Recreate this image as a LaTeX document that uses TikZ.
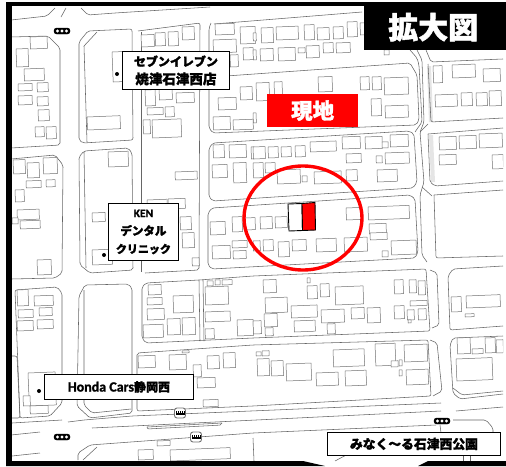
\documentclass[tikz,border=0pt]{standalone}
\usepackage{fontspec}
\setmainfont{Noto Sans CJK JP}[BoldFeatures={FakeBold=1.6}]
\newfontfamily\latn{Carlito}[BoldFeatures={FakeBold=1.2}]
\tikzset{
 bld/.style={draw=black!55,line width=.5pt,fill=white,line join=round},
 road/.style={draw=black!60,line width=.55pt,rounded corners=2pt,line join=round},
 lbl/.style={draw=black,line width=.9pt,fill=white,inner sep=0pt,align=center,font=\bfseries},
 pill/.style={draw=black,fill=black,rounded corners=2.6pt,minimum width=16pt,minimum height=6pt,inner sep=0pt},
 rail/.style={draw=black!55,line width=.9pt,fill=white,rounded corners=2.5pt,minimum width=11pt,minimum height=10pt,inner sep=0pt}
}
\begin{document}
\begin{tikzpicture}[x=1pt,y=-1pt]
\useasboundingbox (0,0) rectangle (506,466);
\fill[white] (0,0) rectangle (506,466);
\begin{scope}
\clip (11,5) rectangle (503,461);
% gray verges
\fill[black!10] (427,66) -- (431,66) -- (433,122) -- (429,122) -- cycle;
\fill[black!10] (429,135) -- (433,135) -- (435,182) -- (431,182) -- cycle;
% roads and blocks
\draw[road] (11,20) -- (47,16) -- (55,8) ;
\draw[road] (66,8) -- (61,17);
\draw[road] (81,8) -- (88,15) -- (115,13) -- (210,7);
\draw[road] (11,37) -- (48,36) -- (60,48) -- (60,145) -- (11,148);
\draw[road] (11,159) -- (55,155) -- (63,165) -- (62,273) -- (55,278) -- (11,279);
\draw[road] (15,290) -- (57,287) -- (62,293) -- (62,403) -- (50,416) -- (20,418) -- cycle;
\draw[road] (12,356) -- (17,356) -- (20,418) -- (12,418);
\draw[road] (79,42) -- (88,31) -- (132,29) -- (133,140) -- (83,143) -- (79,140) -- cycle;
\draw[road] (84,46) -- (97,32);
\draw[road] (84,46) -- (87,142);
\draw[road] (79,157) -- (84,151) -- (128,148) -- (132,153) -- (133,270) -- (90,273) -- (80,265) -- cycle;
\draw[road] (84,152) -- (86,268);
\draw[road] (79,296) -- (85,285) -- (128,284) -- (132,288) -- (132,413) -- (90,418) -- (77,406) -- cycle;
\draw[road] (84,290) -- (84,405) -- (92,413) -- (131,409);
\draw[road] (138,31) -- (200,23) -- (199,270) -- (145,273);
\draw[road] (141,32) -- (141,272);
\draw[road] (142,287) -- (146,283) -- (199,280) -- (253,276) -- (426,269) -- (430,331) -- (253,338) -- (146,343) -- (142,338) -- cycle;
\draw[road] (199,280) -- (200,341);
\draw[road] (203,280) -- (204,341);
\draw[road] (137,353) -- (253,345) -- (428,340) -- (431,396) -- (253,406) -- (137,411) -- cycle;
\draw[road] (214,24) -- (362,12);
\draw[road] (211,23) -- (209,28) -- (209,128) -- (213,133) -- (416,125) -- (419,120) -- (417,75) -- (410,63) -- (212,77);
\draw[road] (209,148) -- (213,143) -- (409,131) -- (414,134) -- (417,182) -- (413,188) -- (213,201) -- (209,197) -- cycle;
\draw[road] (208,213) -- (212,208) -- (410,195) -- (415,199) -- (418,252) -- (415,258) -- (212,269) -- (208,265) -- cycle;
\draw[road] (410,50) -- (417,58) -- (419,65) -- (422,122) -- (415,132);
\draw[road] (417,50) -- (422,60) -- (424,122) -- (420,132) -- (424,182) -- (420,195) -- (422,255) -- (427,262);
\draw[road] (426,50) -- (431,62) -- (503,59);
\draw[road] (428,64) -- (431,122) -- (503,118);
\draw[road] (420,132) -- (428,124);
\draw[road] (428,134) -- (503,128);
\draw[road] (428,134) -- (430,182) -- (435,186) -- (503,181);
\draw[road] (422,187) -- (432,196);
\draw[road] (434,195) -- (503,190);
\draw[road] (434,195) -- (436,258) -- (503,256);
\draw[road] (430,270) -- (437,273) -- (439,325) -- (432,328);
\draw[road] (430,340) -- (437,343) -- (442,391) -- (433,396);
\draw[road] (503,266) -- (453,269) -- (448,276) -- (450,330) -- (503,326);
\draw[road] (503,336) -- (453,338) -- (450,345) -- (453,393) -- (460,399) -- (503,394);
\draw[road] (453,388) -- (462,395) -- (503,391);
\draw[road] (12,423) -- (62,420);
\draw[road] (11,435) -- (40,432);
\draw[road] (12,456) -- (40,453);
\draw[road] (92,428) -- (441,411);
\draw[road] (147,427) -- (222,423);
\draw[road] (147,427) -- (147,429) -- (222,425) -- (222,423);
\draw[road] (456,411) -- (503,407);
\draw[road] (78,460) -- (78,453) -- (90,445) -- (253,433) -- (436,425);
\draw[road] (83,460) -- (97,447);
\draw[road] (68,422) -- (84,420) -- (132,416) -- (441,403);
\draw[road] (453,420) -- (486,420) -- (493,428) -- (493,433);
\draw[road] (440,425) -- (441,433);
\draw[road] (253,438) -- (254,461);
\draw[road] (463,455) -- (463,461);
\draw[road] (470,455) -- (470,461);
\draw[road] (335,461) -- (350,453);
% buildings
\foreach \x/\y/\w/\h in {
30/37/17/12,16/49/12/18,24/69/20/12,18/84/14/7,37/83/11/9,18/96/14/9,37/97/11/9,38/110/11/11,35/127/9/10,46/127/10/12,
13/160/12/14,27/163/12/15,43/158/14/16,26/181/15/7,46/180/9/7,15/190/9/12,17/210/22/10,12/218/6/6,20/221/20/8,37/260/14/15,
17/290/11/16,34/296/19/10,18/310/15/8,39/308/13/8,17/321/16/10,37/320/16/9,28/373/27/33,23/396/7/10,30/406/18/8,
112/52/12/30,87/117/33/13,108/152/20/15,92/213/13/9,92/250/20/15,
141/35/13/12,155/33/10/13,168/32/10/14,182/27/12/13,145/90/10/16,159/88/13/12,176/93/18/10,147/108/16/7,165/107/9/10,143/120/7/14,152/120/29/18,175/172/22/8,147/200/20/10,168/199/17/10,180/217/11/13,182/233/12/15,192/258/7/8,
215/24/19/11,240/27/15/17,213/40/23/13,243/48/10/12,230/55/8/12,253/33/3/8,261/28/12/15,276/27/22/13,304/25/10/15,317/28/12/12,333/27/10/12,347/22/10/15,360/23/5/12,253/50/3/10,260/49/13/12,278/48/17/13,306/46/13/12,323/43/10/10,336/43/14/10,298/48/7/5,384/50/5/5,
218/98/18/12,240/87/12/13,213/117/17/13,233/120/20/10,256/83/13/18,274/82/8/15,318/77/14/15,360/77/9/13,372/77/9/13,384/78/24/17,371/99/10/17,385/106/23/12,253/113/3/10,
213/145/11/13,229/145/17/13,251/147/3/12,212/165/15/13,233/163/13/20,253/147/12/12,268/147/10/11,281/147/10/10,295/146/10/11,310/142/26/10,342/137/18/12,365/137/17/12,382/142/6/6,390/135/18/12,346/154/15/9,376/156/6/7,385/153/24/11,253/163/10/15,265/163/10/10,277/170/23/14,302/176/5/6,314/172/27/12,346/170/11/11,377/170/20/12,
210/222/15/13,232/217/10/15,245/218/10/12,260/217/12/12,275/217/12/11,346/208/15/12,368/207/41/13,369/224/17/10,263/240/10/11,278/242/11/15,292/240/14/11,316/239/20/13,344/238/23/14,391/241/25/14,382/251/6/6,370/233/17/7,253/241/7/10,212/246/18/13,233/251/13/8,232/241/15/7,
148/285/13/10,147/298/15/7,147/309/17/11,143/325/20/13,167/319/13/16,182/318/13/17,173/296/20/17,207/281/6/5,215/280/5/5,222/280/10/5,205/287/23/18,205/312/25/10,205/329/9/10,237/320/16/16,263/280/13/13,265/298/22/15,253/321/8/13,264/314/13/13,265/328/8/8,307/278/3/5,307/286/10/13,320/284/9/13,335/287/28/18,291/306/26/12,294/321/21/11,321/310/23/13,327/324/8/10,351/308/13/11,367/308/13/15,394/280/9/14,409/280/7/13,418/281/7/14,410/301/17/5,394/306/10/13,407/310/7/10,418/309/8/11,408/320/3/3,
138/356/17/12,169/355/17/15,193/365/8/12,207/356/12/13,223/353/12/15,197/378/18/10,203/400/15/7,182/351/7/2,256/352/5/4,262/351/7/5,257/359/12/17,271/361/12/15,286/364/25/17,333/350/31/17,316/373/22/13,345/371/21/15,375/344/20/22,391/361/7/6,399/360/3/6,399/370/3/6,404/345/23/17,406/370/22/15,
433/66/9/17,452/65/23/13,483/69/17/13,435/95/22/12,461/93/11/13,476/93/11/13,489/91/12/15,439/137/17/13,459/136/17/13,479/134/23/14,439/155/17/10,492/155/11/14,451/297/10/15,466/296/34/12,465/314/9/3,457/338/13/16,472/349/11/5,485/338/10/15,496/340/7/13,456/359/36/22,
157/441/13/5,138/450/15/10,
170/450/60/11}
 \draw[bld] (\x,\y) -- ++(\w,-.04*\w) -- ++(.04*\h,\h) -- ++(-\w,.04*\w) -- cycle;
\end{scope}
% site lot
\draw[black,line width=.9pt,fill=white] (288,204) -- (302,203.5) -- (302.5,230.5) -- (289,231) -- cycle;
\draw[black,line width=.9pt,fill=red] (302,203.5) -- (315,202.5) -- (315.5,230) -- (302.5,230.5) -- cycle;
% circle
\draw[red,line width=3.4pt] (303,218) ellipse [x radius=59,y radius=52];
% signals
\foreach \n/\px/\py in {sa/62/31,sb/62/437,sc/442/421}{
 \node[pill] (\n) at (\px,\py) {};
 \foreach \d in {-4.5,0,4.5} \fill[white] (\px+\d,\py) circle (1.6);
}
\foreach \n/\px/\py in {ra/180/413,rb/196/437}{
 \node[rail] (\n) at (\px,\py) {};
 \fill[black] (\px-4.5,\py-.5) rectangle (\px+4.5,\py+1.5);
 \foreach \d in {-4,-2,0,2,4} \fill[black] (\px+\d-.4,\py-2) rectangle (\px+\d+.4,\py);
}
% dots
\fill[black] (117,74) circle (2) (104,255) circle (2) (39,391) circle (2);
% labels
\node[lbl,anchor=north west,minimum width=107pt,minimum height=38pt,font=\bfseries\fontsize{12}{18}\selectfont] (seven) at (122,51) {セブンイレブン\\{\fontsize{13.5}{18}\selectfont 焼津石津西店}};
\node[lbl,anchor=north west,minimum width=70pt,minimum height=57pt,font=\bfseries\fontsize{11.5}{18}\selectfont] (ken) at (108,203) {{\latn KEN}\\デンタル\\{\fontsize{11}{18}\selectfont クリニック}};
\node[lbl,anchor=north west,minimum width=149pt,minimum height=25pt,font=\bfseries\fontsize{12}{14}\selectfont] (honda) at (44,374) {{\latn\fontsize{14}{14}\selectfont Honda Cars}静岡西};
\node[lbl,anchor=north west,minimum width=173pt,minimum height=23pt,font=\bfseries\fontsize{12.8}{14}\selectfont] (park) at (327,432) {みなく～る石津西公園};
\node[anchor=north west,fill=red,text=white,minimum width=91pt,minimum height=33pt,inner sep=0pt,font=\bfseries\fontsize{21.5}{24}\selectfont] (site) at (267,94) {現地};
\node[anchor=north west,fill=black,text=white,minimum width=142pt,minimum height=46pt,inner sep=0pt,font=\bfseries\fontsize{30}{32}\selectfont] (zoomtag) at (364,4) {\hspace*{-4pt}拡大図};
% frame
\fill[black] (6,2) rectangle (12,461);
\fill[black] (6,2) rectangle (506,6);
\fill[black] (6,461) -- (303,461) -- (325,466) -- (6,466) -- cycle;
\fill[black] (418,466) -- (428,461) -- (506,461) -- (506,466) -- cycle;
\end{tikzpicture}
\end{document}
